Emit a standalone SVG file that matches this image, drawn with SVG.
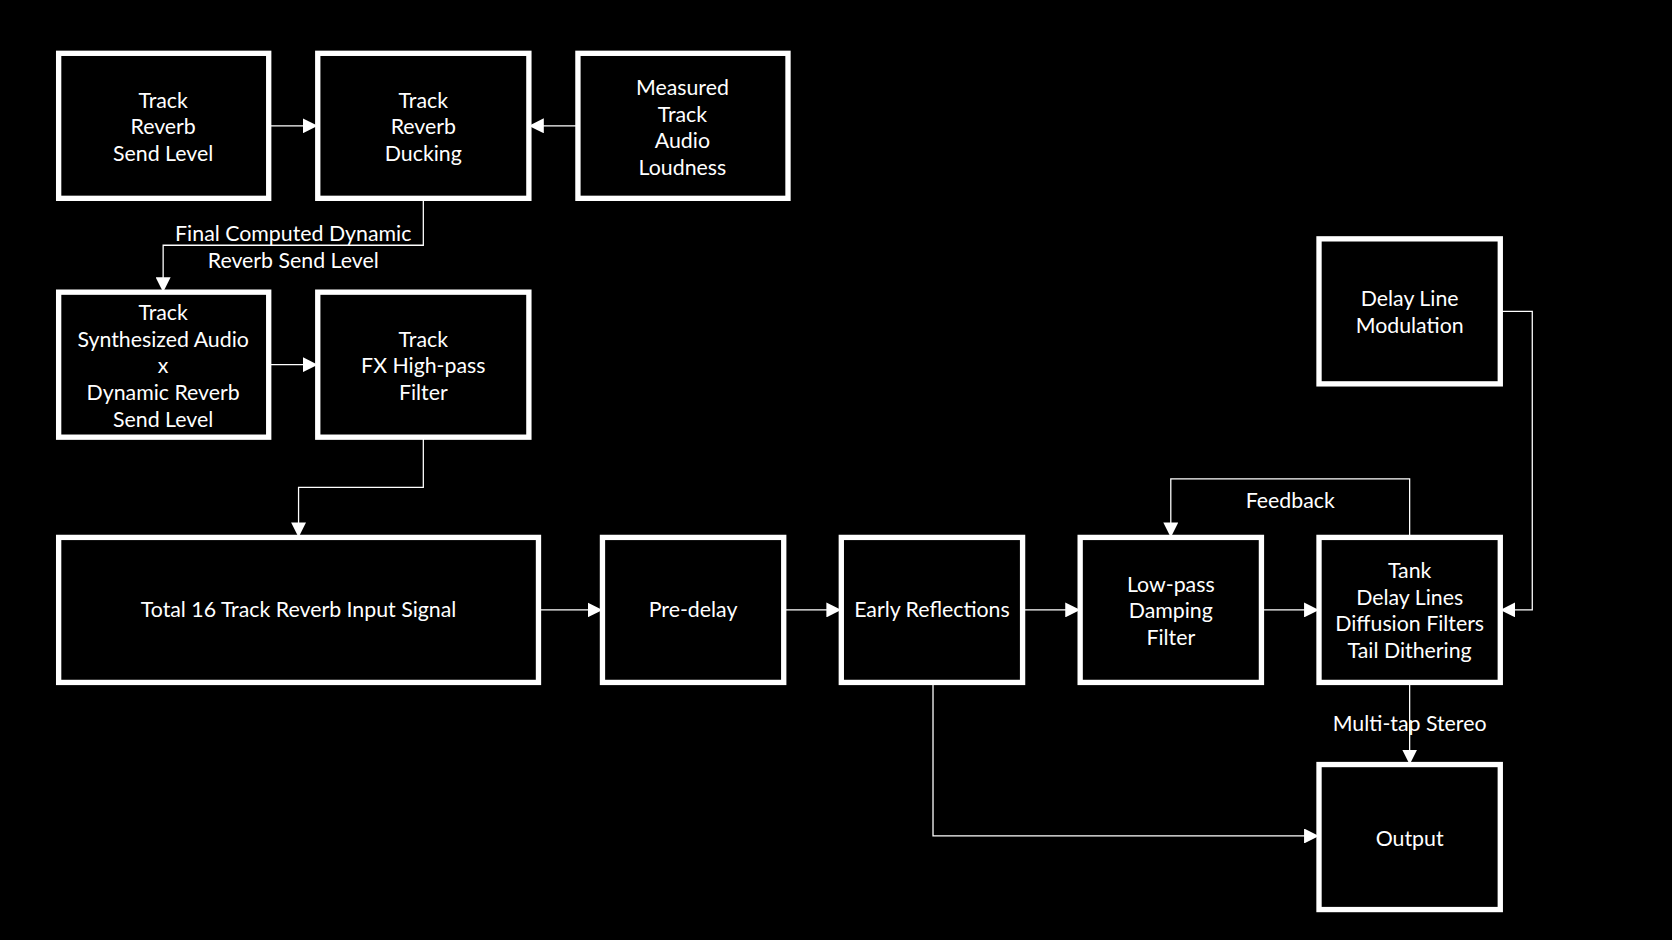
<svg xmlns="http://www.w3.org/2000/svg" width="1672" height="940" viewBox="0 0 1672 940">
<style>
.b{fill:#000;stroke:#fff;stroke-width:5}
.t{fill:#fff;font-family:Lato,"Open Sans",sans-serif;font-size:20px;text-anchor:middle}
.c{fill:none;stroke:#fff;stroke-width:1.2;marker-end:url(#a)}
.l{fill:none;stroke:#fff;stroke-width:1.2}
</style>
<defs><marker id="a" viewBox="0 0 10 10" refX="10" refY="5" markerWidth="14" markerHeight="14" markerUnits="userSpaceOnUse" orient="auto"><path d="M0,0L10,5L0,10z" fill="#fff"/></marker></defs>
<rect width="1672" height="940" fill="#000"/>
<g transform="scale(1.0663)">
<g id="connectors">
<path class="c" d="M252,118H298"/>
<path class="c" d="M542,118H496"/>
<path class="c" d="M397,186V230H153V274"/>
<path class="c" d="M252,342H298"/>
<path class="c" d="M397,410V457H280V504"/>
<path class="c" d="M505,572H565"/>
<path class="c" d="M735,572H789"/>
<path class="c" d="M959,572H1013"/>
<path class="c" d="M1183,572H1237"/>
<path class="c" d="M1322,504V449H1098V504"/>
<path class="c" d="M1407,292H1437V572H1407"/>
<path class="c" d="M1322,640V717"/>
<path class="c" d="M875,640V784H1237"/>
<text class="t" x="275" y="226">Final Computed Dynamic</text>
<text class="t" x="275" y="251">Reverb Send Level</text>
<text class="t" x="1210" y="476">Feedback</text>
<text class="t" x="1322" y="686">Multi-tap Stereo</text>
</g>
<g id="n1"><rect class="b" x="55" y="50" width="197" height="136"/><text class="t" x="153" y="101">Track</text><text class="t" x="153" y="126">Reverb</text><text class="t" x="153" y="151">Send Level</text></g>
<g id="n2"><rect class="b" x="298" y="50" width="198" height="136"/><text class="t" x="397" y="101">Track</text><text class="t" x="397" y="126">Reverb</text><text class="t" x="397" y="151">Ducking</text></g>
<g id="n3"><rect class="b" x="542" y="50" width="197" height="136"/><text class="t" x="640" y="89">Measured</text><text class="t" x="640" y="114">Track</text><text class="t" x="640" y="139">Audio</text><text class="t" x="640" y="164">Loudness</text></g>
<g id="n4"><rect class="b" x="55" y="274" width="197" height="136"/><text class="t" x="153" y="300">Track</text><text class="t" x="153" y="325">Synthesized Audio</text><text class="t" x="153" y="350">x</text><text class="t" x="153" y="375">Dynamic Reverb</text><text class="t" x="153" y="400">Send Level</text></g>
<g id="n5"><rect class="b" x="298" y="274" width="198" height="136"/><text class="t" x="397" y="325">Track</text><text class="t" x="397" y="350">FX High-pass</text><text class="t" x="397" y="375">Filter</text></g>
<g id="n6"><rect class="b" x="55" y="504" width="450" height="136"/><text class="t" x="280" y="579">Total 16 Track Reverb Input Signal</text></g>
<g id="n7"><rect class="b" x="565" y="504" width="170" height="136"/><text class="t" x="650" y="579">Pre-delay</text></g>
<g id="n8"><rect class="b" x="789" y="504" width="170" height="136"/><text class="t" x="874" y="579">Early Reflections</text></g>
<g id="n9"><rect class="b" x="1013" y="504" width="170" height="136"/><text class="t" x="1098" y="555">Low-pass</text><text class="t" x="1098" y="580">Damping</text><text class="t" x="1098" y="605">Filter</text></g>
<g id="n10"><rect class="b" x="1237" y="504" width="170" height="136"/><text class="t" x="1322" y="542">Tank</text><text class="t" x="1322" y="567">Delay Lines</text><text class="t" x="1322" y="592">Diffusion Filters</text><text class="t" x="1322" y="617">Tail Dithering</text></g>
<g id="n11"><rect class="b" x="1237" y="224" width="170" height="136"/><text class="t" x="1322" y="287">Delay Line</text><text class="t" x="1322" y="312">Modulation</text></g>
<g id="n12"><rect class="b" x="1237" y="717" width="170" height="136"/><text class="t" x="1322" y="793">Output</text></g>
</g>
</svg>
